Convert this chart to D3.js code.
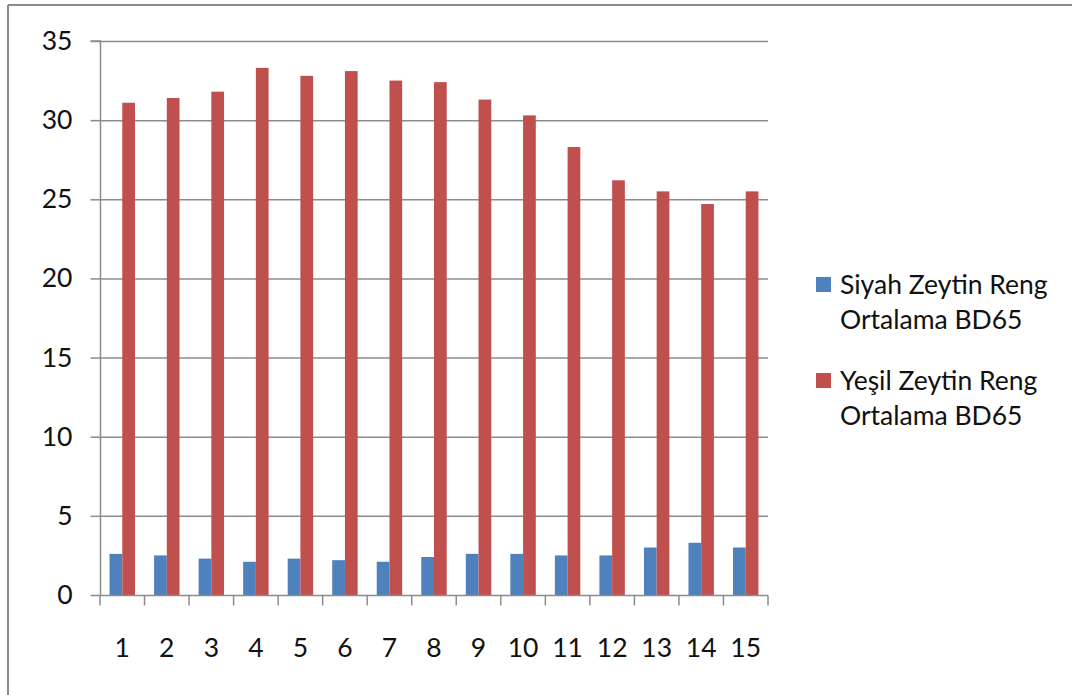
<!DOCTYPE html>
<html>
<head>
<meta charset="utf-8">
<script src="https://cdn.jsdelivr.net/npm/d3@7"></script>
<style>
  html, body { margin: 0; padding: 0; background: #fff; }
  svg { display: block; }
  text { font-family: Lato, "Open Sans", sans-serif; fill: #111; }
</style>
</head>
<body>
<svg id="chart" width="1072" height="695"></svg>
<script>
// Sample numbers on the x axis
const categories = ["1","2","3","4","5","6","7","8","9","10","11","12","13","14","15"];

// Average BD65 colour values per sample
const siyahValues = [2.6, 2.5, 2.3, 2.1, 2.3, 2.2, 2.1, 2.4, 2.6, 2.6, 2.5, 2.5, 3.0, 3.3, 3.0];
const yesilValues = [31.1, 31.4, 31.8, 33.3, 32.8, 33.1, 32.5, 32.4, 31.3, 30.3, 28.3, 26.2, 25.5, 24.7, 25.5];

const seriesNames = ["Siyah Zeytin Reng Ortalama BD65", "Yeşil Zeytin Reng Ortalama BD65"];
const seriesColors = ["#4F81BD", "#C0504D"];
const yTicks = [0, 5, 10, 15, 20, 25, 30, 35];

const svg = d3.select("#chart");
const W = 1072, H = 695;

// frame around the chart area (only the top and left edges are inside the view)
svg.append("line").attr("x1", 8).attr("x2", W).attr("y1", 5).attr("y2", 5)
  .attr("stroke", "#8a8a8a").attr("stroke-width", 2);
svg.append("line").attr("x1", 8).attr("x2", 8).attr("y1", 5).attr("y2", H)
  .attr("stroke", "#8a8a8a").attr("stroke-width", 2);

const plot = { left: 100, right: 768, top: 41, bottom: 595 };

const x = d3.scaleBand().domain(categories).range([plot.left, plot.right]).paddingInner(0).paddingOuter(0);
const y = d3.scaleLinear().domain([0, 35]).range([plot.bottom, plot.top]);

// horizontal gridlines
svg.append("g").selectAll("line").data(yTicks.filter(d => d > 0)).join("line")
  .attr("x1", plot.left).attr("x2", plot.right)
  .attr("y1", d => y(d) + 0.5).attr("y2", d => y(d) + 0.5)
  .attr("stroke", "#8c8c8c").attr("stroke-width", 1.5);

// bars: two series per category, gap width 150%
const barW = x.bandwidth() / 3.5;
const gap = x.bandwidth() * 0.75 / 3.5;
const allSeries = [siyahValues, yesilValues];
allSeries.forEach((vals, si) => {
  svg.append("g").selectAll("rect").data(vals).join("rect")
    .attr("x", (d, i) => x(categories[i]) + gap + si * barW)
    .attr("y", d => y(d))
    .attr("width", barW)
    .attr("height", d => y(0) - y(d))
    .attr("fill", seriesColors[si]);
});

// y axis
const yAxis = d3.axisLeft(y).tickValues(yTicks).tickSize(10).tickPadding(18);
const gy = svg.append("g").attr("transform", `translate(${plot.left + 0.5},0)`).call(yAxis);
gy.select(".domain").attr("stroke", "#8c8c8c").attr("stroke-width", 1.5).attr("d", `M-10,${plot.top}H0V${plot.bottom}`);
gy.selectAll(".tick line").attr("stroke", "#8c8c8c").attr("stroke-width", 1.5);
gy.selectAll(".tick text").attr("font-size", 26.5).attr("fill", "#111").attr("font-family", "Lato");

// x axis
const xAxis = d3.axisBottom(x).tickSize(0).tickPadding(43);
const gx = svg.append("g").attr("transform", `translate(0,${plot.bottom + 0.5})`).call(xAxis);
gx.select(".domain").attr("stroke", "#8c8c8c").attr("stroke-width", 1.5).attr("d", `M${plot.left},0H${plot.right}`);
gx.selectAll(".tick text").attr("font-size", 26.5).attr("fill", "#111").attr("font-family", "Lato");
// category separator ticks
const sepX = categories.map(c => x(c)).concat([plot.right]);
gx.append("g").selectAll("line").data(sepX).join("line")
  .attr("x1", d => d).attr("x2", d => d).attr("y1", 0).attr("y2", 10)
  .attr("stroke", "#8c8c8c").attr("stroke-width", 1.5);

// legend
const legend = svg.append("g").attr("transform", "translate(816,277)");
seriesNames.forEach((name, i) => {
  const g = legend.append("g").attr("transform", `translate(0,${i * 96})`);
  g.append("rect").attr("width", 15).attr("height", 15).attr("fill", seriesColors[i]);
  const words = name.split(" ");
  const lines = [words.slice(0, 3).join(" "), words.slice(3).join(" ")];
  lines.forEach((ln, li) => {
    g.append("text").attr("x", 24).attr("y", 17 + li * 35)
      .attr("font-size", 26.5).text(ln);
  });
});
</script>
</body>
</html>
